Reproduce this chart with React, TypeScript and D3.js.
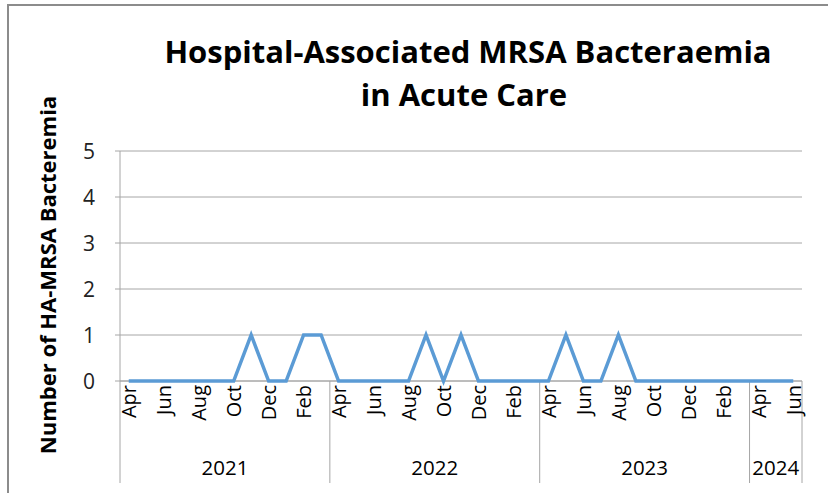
import { useEffect, useRef } from "react";
import * as d3 from "d3";

const months = [
  "Apr", "May", "Jun", "Jul", "Aug", "Sep", "Oct", "Nov", "Dec", "Jan", "Feb", "Mar",
  "Apr", "May", "Jun", "Jul", "Aug", "Sep", "Oct", "Nov", "Dec", "Jan", "Feb", "Mar",
  "Apr", "May", "Jun", "Jul", "Aug", "Sep", "Oct", "Nov", "Dec", "Jan", "Feb", "Mar",
  "Apr", "May", "Jun",
];
const years = ["2021", "2022", "2023", "2024"];
const yearSpans = [12, 12, 12, 3];
const cases = [
  0, 0, 0, 0, 0, 0, 0, 1, 0, 0, 1, 1,
  0, 0, 0, 0, 0, 1, 0, 1, 0, 0, 0, 0,
  0, 1, 0, 0, 1, 0, 0, 0, 0, 0, 0, 0,
  0, 0, 0,
];
const yTicks = [0, 1, 2, 3, 4, 5];

const W = 828;
const H = 493;
const FONT = "'Open Sans', 'Noto Sans', sans-serif";

const App = () => {
  const ref = useRef<SVGSVGElement>(null);

  useEffect(() => {
    const svg = d3.select(ref.current);
    svg.selectAll("*").remove();

    const left = 120, right = 802, top = 151, bottom = 381;
    const idx = months.map((_, i) => i);

    const x = d3.scaleBand<number>().domain(idx).range([left, right]).padding(0);
    const y = d3.scaleLinear().domain([0, 5]).range([bottom, top]);
    const cx = (i: number) => (x(i) as number) + x.bandwidth() / 2;

    // outer frame (top and left edges visible)
    svg.append("path")
      .attr("d", `M8,${H} L8,5 L${W},5`)
      .attr("fill", "none")
      .attr("stroke", "#8c8c8c")
      .attr("stroke-width", 2);

    // title
    const title = svg.append("text")
      .attr("text-anchor", "middle")
      .style("font-family", FONT)
      .style("font-weight", "bold")
      .style("font-size", "31px")
      .attr("fill", "#000");
    title.append("tspan").attr("x", 468).attr("y", 63).text("Hospital-Associated MRSA Bacteraemia");
    title.append("tspan").attr("x", 464).attr("y", 106).text("in Acute Care");

    // gridlines
    svg.append("g")
      .selectAll("line")
      .data(yTicks)
      .join("line")
      .attr("x1", left - 5)
      .attr("x2", right)
      .attr("y1", d => y(d))
      .attr("y2", d => y(d))
      .attr("stroke", "#a6a6a6")
      .attr("stroke-width", 1);

    // y axis line
    svg.append("line")
      .attr("x1", left).attr("x2", left)
      .attr("y1", top).attr("y2", bottom)
      .attr("stroke", "#a6a6a6");

    // y tick labels
    svg.append("g")
      .selectAll("text")
      .data(yTicks)
      .join("text")
      .attr("x", 95)
      .attr("y", d => y(d))
      .attr("dy", "0.36em")
      .attr("text-anchor", "end")
      .style("font-family", FONT)
      .style("font-size", "21px")
      .attr("fill", "#222")
      .text(d => d);

    // y axis title
    svg.append("text")
      .attr("transform", "translate(56,275) rotate(-90)")
      .attr("text-anchor", "middle")
      .style("font-family", FONT)
      .style("font-weight", "bold")
      .style("font-size", "22px")
      .attr("fill", "#000")
      .text("Number of HA-MRSA Bacteremia");

    // x axis line
    svg.append("line")
      .attr("x1", left).attr("x2", right)
      .attr("y1", bottom).attr("y2", bottom)
      .attr("stroke", "#a6a6a6");

    // year group separators
    const bounds = [0, ...d3.cumsum(yearSpans)];
    svg.append("g")
      .selectAll("line")
      .data(bounds)
      .join("line")
      .attr("x1", d => left + d * x.bandwidth())
      .attr("x2", d => left + d * x.bandwidth())
      .attr("y1", bottom)
      .attr("y2", 483)
      .attr("stroke", "#a6a6a6");

    // month labels (every second month)
    svg.append("g")
      .selectAll("text")
      .data(idx.filter(i => i % 2 === 0))
      .join("text")
      .attr("transform", i => `translate(${cx(i)},385) rotate(-90)`)
      .attr("text-anchor", "end")
      .attr("dominant-baseline", "central")
      .style("font-family", FONT)
      .style("font-size", "20px")
      .attr("fill", "#000")
      .text(i => months[i]);

    // year labels
    svg.append("g")
      .selectAll("text")
      .data(years)
      .join("text")
      .attr("x", (_, k) => left + (bounds[k] + bounds[k + 1]) / 2 * x.bandwidth())
      .attr("y", 475)
      .attr("text-anchor", "middle")
      .style("font-family", FONT)
      .style("font-size", "20.5px")
      .attr("fill", "#000")
      .text(d => d);

    // series line
    const line = d3.line<number>()
      .x((_, i) => cx(i))
      .y(d => y(d));

    svg.append("path")
      .datum(cases)
      .attr("d", line)
      .attr("fill", "none")
      .attr("stroke", "#5b9bd5")
      .attr("stroke-width", 3.5)
      .attr("stroke-linejoin", "miter");
  }, []);

  return (
    <svg
      ref={ref}
      width={W}
      height={H}
      style={{ position: "absolute", left: 0, top: 0, background: "#fff" }}
    ></svg>
  );
};

export default App;
